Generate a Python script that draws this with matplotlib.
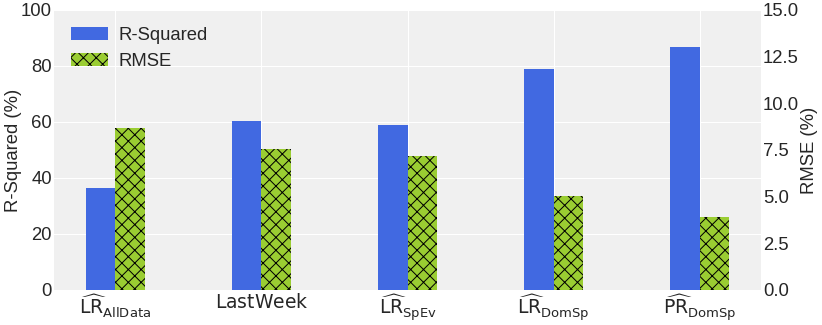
import numpy as np, matplotlib; matplotlib.use("Agg")
import matplotlib.pyplot as plt

DPI = 77
def pt(px): return px*72/DPI   # font/line size from pixel em
plt.rcParams["font.family"] = ["Liberation Sans", "DejaVu Sans"]
plt.rcParams["hatch.linewidth"] = pt(1.0)
plt.rcParams["text.color"] = "#262626"
plt.rcParams["axes.labelcolor"] = "#262626"

models = [r"$\widehat{\mathrm{LR}}_{\mathrm{AllData}}$", r"$\mathrm{LastWeek}$",
          r"$\widehat{\mathrm{LR}}_{\mathrm{SpEv}}$", r"$\widehat{\mathrm{LR}}_{\mathrm{DomSp}}$",
          r"$\widehat{\mathrm{PR}}_{\mathrm{DomSp}}$"]
r_squared = [36.5, 60.5, 58.9, 78.8, 86.9]
rmse = [8.7, 7.53, 7.18, 5.02, 3.93]

x = np.arange(len(models)); w = 0.2
fig, ax = plt.subplots(figsize=(822/DPI, 325/DPI), dpi=DPI)
ax2 = ax.twinx()
for a in (ax, ax2):
    for s in a.spines.values(): s.set_visible(False)
    a.tick_params(length=0, labelsize=pt(18.5), colors="#262626", pad=pt(2))
ax.set_facecolor("#f0f0f0")
ax.grid(True, color="white", lw=pt(1)); ax.set_axisbelow(True)
b1 = ax.bar(x - w/2, r_squared, w, color="royalblue", label="R-Squared")
b2 = ax2.bar(x + w/2, rmse, w, color="yellowgreen", edgecolor="black", lw=0, hatch="xx", label="RMSE")
ax.set_ylim(0, 100); ax2.set_ylim(0, 15)
ax.set_yticks(np.arange(0, 101, 20)); ax2.set_yticks(np.arange(0, 15.1, 2.5))
ax2.set_yticklabels([f"{v:.1f}" for v in np.arange(0, 15.1, 2.5)])
ax.set_xticks(x); ax.set_xticklabels(models, fontsize=pt(18.8))
ax.tick_params(axis="x", pad=pt(3))
ax.set_ylabel("R-Squared (%)", fontsize=pt(18.5))
ax2.set_ylabel("RMSE (%)", fontsize=pt(18.5))
ax.yaxis.set_label_coords(-0.0453, 0.5)
ax2.yaxis.set_label_coords(1.0566, 0.5)
ax.legend([b1, b2], ["R-Squared", "RMSE"], loc="upper left", frameon=False, fontsize=pt(18.5),
          bbox_to_anchor=(0.0, 1.0), handlelength=2.0, handletextpad=0.6)
plt.subplots_adjust(left=54/822, right=761/822, top=1-10/325, bottom=1-290/325)
plt.savefig("out.png", dpi=DPI)
